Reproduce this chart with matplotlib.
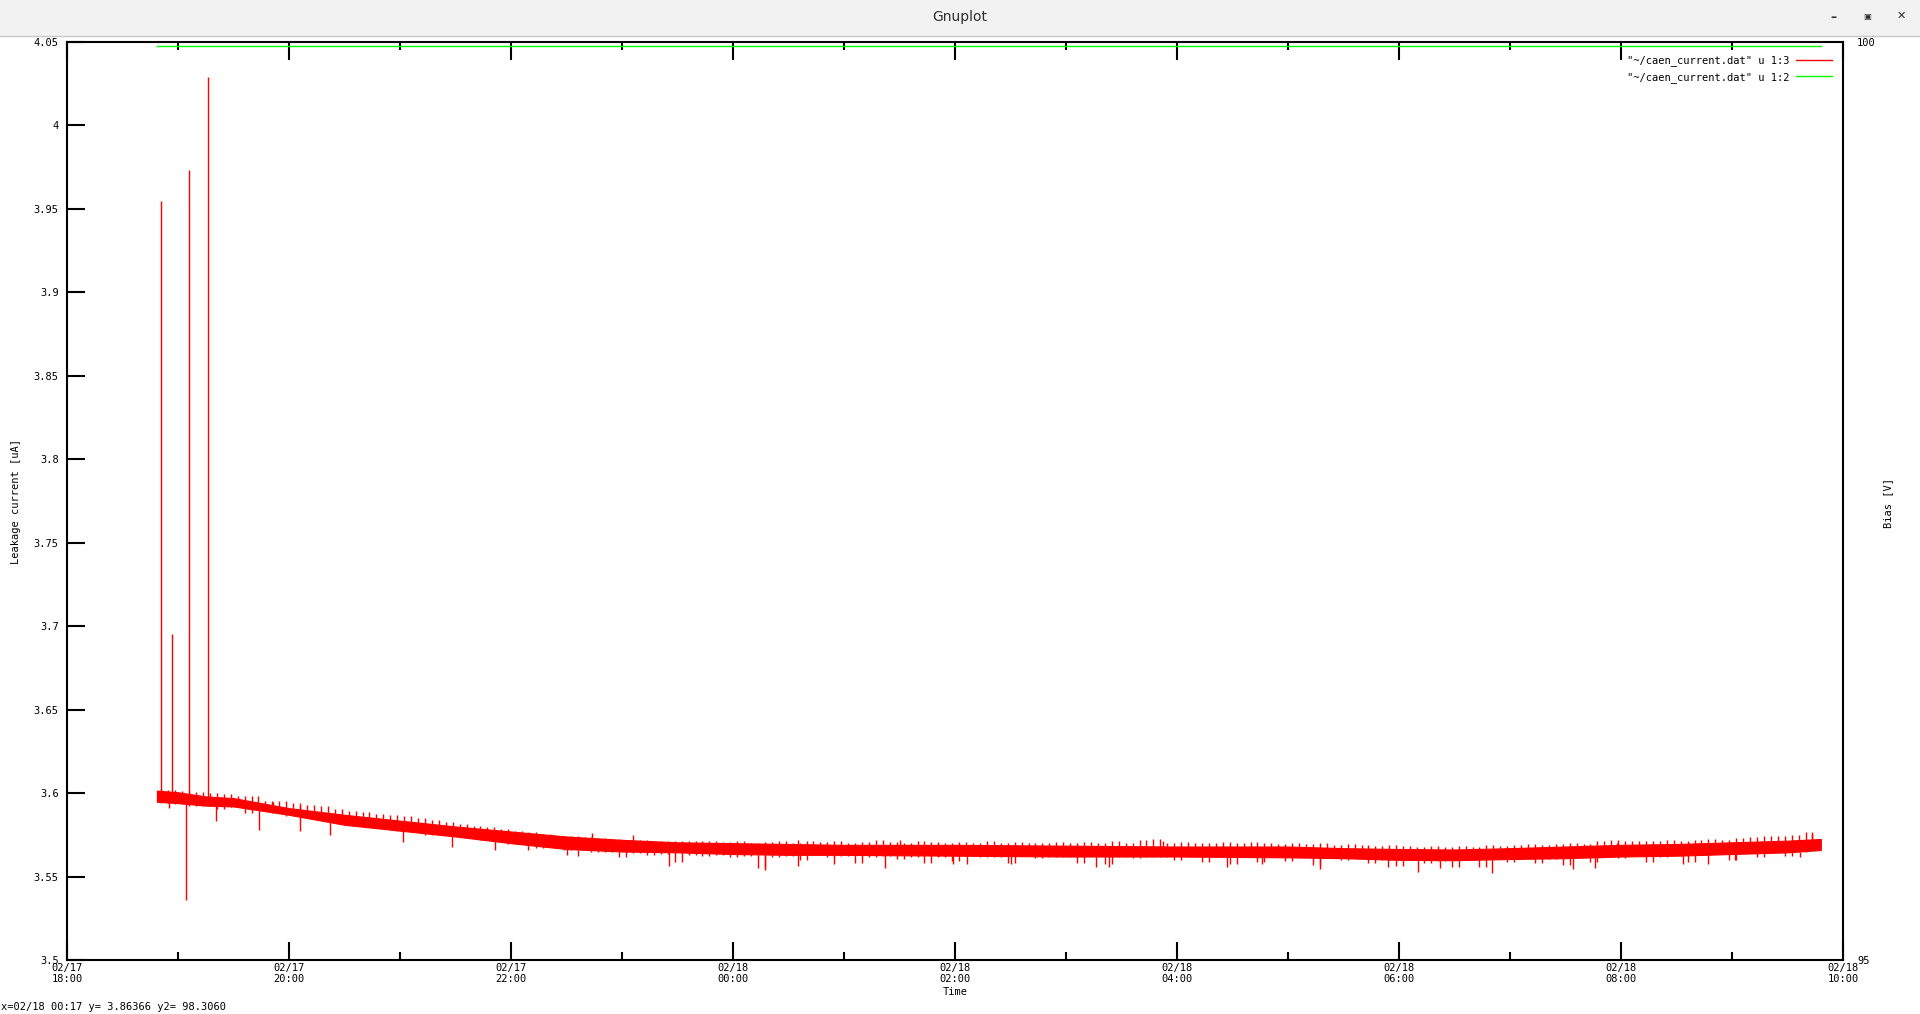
import datetime as dt
import matplotlib
matplotlib.use("Agg")
import matplotlib.pyplot as plt
import matplotlib.dates as mdates
from matplotlib.lines import Line2D
import numpy as np
import pandas as pd

# time is given in hours after 02/17 18:00
t0 = dt.datetime(2015, 2, 17, 18, 0)

# dense part of the leakage current trace (upper / lower edge), uA
band_hours = [0.81, 1.0, 1.25, 1.5, 2.0, 2.5, 3.0, 3.5, 4.0, 4.5, 5.0, 5.5, 6.0, 6.5,
              7.0, 8.0, 9.0, 10.0, 11.0, 11.5, 12.0, 12.5, 13.0, 13.5, 14.0, 14.5,
              15.0, 15.5, 15.8]
band_upper = [3.6015, 3.6005, 3.598, 3.597, 3.591, 3.587, 3.5835, 3.580, 3.577, 3.574,
              3.572, 3.5705, 3.570, 3.5695, 3.569, 3.569, 3.5685, 3.568, 3.568, 3.567,
              3.5665, 3.5662, 3.567, 3.568, 3.569, 3.5695, 3.5705, 3.5715, 3.5725]
band_lower = [3.5948, 3.594, 3.5925, 3.592, 3.587, 3.581, 3.5775, 3.574, 3.570, 3.5665,
              3.565, 3.5645, 3.5635, 3.563, 3.563, 3.5625, 3.562, 3.562, 3.5615, 3.561,
              3.560, 3.5598, 3.5605, 3.561, 3.562, 3.5625, 3.5635, 3.5645, 3.5659]

# coarse readings of the noisy trace, one every 3.75 min from 18:51
trace_current = [
    3.6025, 3.5940, 3.6020, 3.5935, 3.6015, 3.5920, 3.6005, 3.5925, 3.6000, 3.5905, 3.5995, 3.5915, 3.5985, 3.5880, 3.5980, 3.5905,
    3.5955, 3.5880, 3.5950, 3.5865, 3.5940, 3.5850, 3.5930, 3.5855, 3.5920, 3.5830, 3.5905, 3.5835, 3.5895, 3.5810, 3.5885, 3.5815,
    3.5875, 3.5795, 3.5870, 3.5770, 3.5860, 3.5785, 3.5850, 3.5750, 3.5840, 3.5765, 3.5825, 3.5740, 3.5815, 3.5745, 3.5805, 3.5720,
    3.5795, 3.5715, 3.5785, 3.5695, 3.5775, 3.5705, 3.5765, 3.5670, 3.5755, 3.5685, 3.5745, 3.5660, 3.5740, 3.5670, 3.5735, 3.5650,
    3.5730, 3.5645, 3.5725, 3.5620, 3.5720, 3.5640, 3.5720, 3.5630, 3.5715, 3.5635, 3.5715, 3.5585, 3.5710, 3.5630, 3.5710, 3.5625,
    3.5710, 3.5630, 3.5705, 3.5615, 3.5710, 3.5625, 3.5700, 3.5550, 3.5705, 3.5620, 3.5710, 3.5625, 3.5700, 3.5600, 3.5710, 3.5630,
    3.5705, 3.5620, 3.5710, 3.5625, 3.5700, 3.5580, 3.5705, 3.5620, 3.5720, 3.5625, 3.5705, 3.5605, 3.5700, 3.5620, 3.5710, 3.5580,
    3.5705, 3.5620, 3.5700, 3.5595, 3.5705, 3.5625, 3.5700, 3.5615, 3.5710, 3.5620, 3.5700, 3.5580, 3.5705, 3.5625, 3.5700, 3.5610,
    3.5700, 3.5620, 3.5705, 3.5615, 3.5700, 3.5580, 3.5705, 3.5625, 3.5700, 3.5575, 3.5710, 3.5620, 3.5700, 3.5610, 3.5720, 3.5620,
    3.5725, 3.5620, 3.5700, 3.5600, 3.5705, 3.5620, 3.5700, 3.5585, 3.5700, 3.5620, 3.5705, 3.5575, 3.5700, 3.5615, 3.5705, 3.5590,
    3.5700, 3.5615, 3.5695, 3.5595, 3.5700, 3.5620, 3.5695, 3.5570, 3.5700, 3.5610, 3.5690, 3.5600, 3.5695, 3.5610, 3.5690, 3.5580,
    3.5685, 3.5600, 3.5690, 3.5565, 3.5685, 3.5605, 3.5680, 3.5580, 3.5685, 3.5595, 3.5680, 3.5560, 3.5685, 3.5600, 3.5680, 3.5555,
    3.5690, 3.5605, 3.5685, 3.5590, 3.5690, 3.5610, 3.5695, 3.5580, 3.5690, 3.5605, 3.5695, 3.5570, 3.5700, 3.5615, 3.5695, 3.5585,
    3.5710, 3.5620, 3.5720, 3.5610, 3.5710, 3.5625, 3.5715, 3.5590, 3.5710, 3.5620, 3.5720, 3.5625, 3.5715, 3.5590, 3.5720, 3.5630,
    3.5725, 3.5635, 3.5720, 3.5600, 3.5730, 3.5640, 3.5735, 3.5620, 3.5740, 3.5645, 3.5745, 3.5625, 3.5750, 3.5650, 3.5765, 3.5670,
]

# isolated glitches sticking out of the band
glitch_hours = [0.92, 1.34, 1.73, 2.10, 2.37, 3.03, 3.47, 3.86, 4.15, 4.5, 4.6, 5.42,
                6.29, 6.59, 6.91, 7.37, 7.98, 8.11, 8.5, 9.27, 9.39, 10.45, 10.77, 11.29,
                11.9, 12.17, 12.37, 12.84, 13.57, 13.77, 14.56, 14.78, 15.03, 15.61,
                1.86, 2.1, 4.73, 5.1, 6.59, 7.5, 9.87, 13.96, 15.72]
glitch_low = [3.591, 3.5833, 3.5779, 3.5773, 3.5749, 3.5707, 3.5677, 3.5659, 3.5659, 3.5629,
              3.5623, 3.5565, 3.5539, 3.5563, 3.5575, 3.5553, 3.5575, 3.5575, 3.5575, 3.5557,
              3.5557, 3.5557, 3.5575, 3.5545, 3.5557, 3.5529, 3.5551, 3.5523, 3.5545, 3.5553,
              3.5573, 3.5575, 3.5599, 3.5619,
              3.592, 3.588, 3.572, 3.571, 3.569, 3.569, 3.568, 3.568, 3.572]
glitch_high = [3.595, 3.593, 3.590, 3.588, 3.584, 3.578, 3.575, 3.572, 3.569, 3.567,
               3.566, 3.565, 3.564, 3.564, 3.564, 3.563, 3.563, 3.563, 3.563, 3.563,
               3.563, 3.563, 3.562, 3.562, 3.561, 3.561, 3.561, 3.561, 3.562, 3.562,
               3.563, 3.563, 3.564, 3.565,
               3.5947, 3.5923, 3.5761, 3.5749, 3.5719, 3.5719, 3.5713, 3.5703, 3.5755]

# tall spikes at the start of the run
spike_hours = [0.844, 0.949, 1.075, 1.095, 1.27]
spike_low = [3.598, 3.597, 3.5361, 3.596, 3.595]
spike_high = [3.9547, 3.6951, 3.598, 3.9733, 4.029]

# bias voltage, V
bias_hours = [0.81, 15.8]
bias_volts = [99.98, 99.98]

y_ticks = [3.5, 3.55, 3.6, 3.65, 3.7, 3.75, 3.8, 3.85, 3.9, 3.95, 4.0, 4.05]
y_ticklabels = ["3.5", "3.55", "3.6", "3.65", "3.7", "3.75", "3.8", "3.85", "3.9",
                "3.95", "4", "4.05"]
legend_labels = ['"~/caen_current.dat" u 1:3', '"~/caen_current.dat" u 1:2']
status_text = "x=02/18 00:17 y= 3.86366 y2= 98.3060"


def to_time(hours):
    return [t0 + dt.timedelta(hours=h) for h in hours]


trace_time = pd.date_range(t0 + dt.timedelta(minutes=51), periods=len(trace_current),
                           freq="225s")
trace = np.array(trace_current)
# each step of the trace drawn as the vertical jump it makes
step_low = np.minimum(trace[:-1], trace[1:])
step_high = np.maximum(trace[:-1], trace[1:])

mono = "DejaVu Sans Mono"
fs = 7.5
plt.rcParams["font.family"] = mono
plt.rcParams["font.size"] = fs

W, H = 1920, 1014
fig = plt.figure(figsize=(W / 100, H / 100), dpi=100)

# window title bar
fig.patches.append(plt.Rectangle((0, 1 - 35 / H), 1, 35 / H, transform=fig.transFigure,
                                 color="#f2f2f2", zorder=0))
fig.lines.append(plt.Line2D([0, 1], [1 - 35.5 / H] * 2, transform=fig.transFigure,
                            color="#c8c8c8", lw=1))
fig.text(0.5, 1 - 17 / H, "Gnuplot", ha="center", va="center", fontsize=10,
         family="DejaVu Sans", color="#2e2e2e")
fig.text(1833 / W, 1 - 17 / H, "\u2013", ha="center", va="center", fontsize=9,
         family="DejaVu Sans", color="#2e2e2e", fontweight="bold")
fig.text(1867 / W, 1 - 16 / H, "\u25a3", ha="center", va="center", fontsize=6,
         family="DejaVu Sans", color="#2e2e2e")
fig.text(1901 / W, 1 - 16 / H, "\u2715", ha="center", va="center", fontsize=8,
         family="DejaVu Sans", color="#2e2e2e", fontweight="bold")

left, right, top, bottom = 67, 1843, 42, 960
ax = fig.add_axes([left / W, 1 - bottom / H, (right - left) / W, (bottom - top) / H])

red = "#ff0000"
ax.fill_between(to_time(band_hours), band_lower, band_upper, color=red, lw=0.8,
                edgecolor=red)
ax.vlines(trace_time[:-1], step_low, step_high, color=red, lw=1.0)
ax.vlines(to_time(glitch_hours), glitch_low, glitch_high, color=red, lw=1.0)
ax.vlines(to_time(spike_hours), spike_low, spike_high, color=red, lw=1.0)
line_i = Line2D([], [], color=red, lw=1.0)

ax.set_ylim(3.5, 4.05)
ax.set_xlim(t0, t0 + dt.timedelta(hours=16))
ax.set_yticks(y_ticks)
ax.set_yticklabels(y_ticklabels)

ax.xaxis.set_major_locator(mdates.HourLocator(byhour=range(0, 24, 2)))
ax.xaxis.set_minor_locator(mdates.HourLocator())
ax.xaxis.set_major_formatter(mdates.DateFormatter("%m/%d\n%H:%M"))
ax.tick_params(which="major", direction="in", length=13, width=1.5,
               top=True, right=True, pad=3, labelsize=fs)
ax.tick_params(which="minor", direction="in", length=6, width=1.5, top=True)
ax.tick_params(axis="y", pad=6)
ax.tick_params(axis="x", pad=2)
for s in ax.spines.values():
    s.set_linewidth(1.5)
for lab in ax.get_xticklabels():
    lab.set_linespacing(1.2)

ax2 = ax.twinx()
ax2.set_ylim(95, 100)
ax2.set_yticks([95, 100])
ax2.set_yticklabels(["95", "100"])
ax2.tick_params(axis="y", length=0, pad=10, labelsize=fs)
for s in ax2.spines.values():
    s.set_visible(False)
line_v, = ax2.plot(to_time(bias_hours), bias_volts, color="#00ff00", lw=1.0,
                   label=legend_labels[1])

leg = ax2.legend([line_i, line_v], legend_labels, loc="upper right", frameon=False,
                 markerfirst=False, handlelength=3.4, handletextpad=0.7,
                 labelspacing=0.55, borderaxespad=0, fontsize=fs,
                 bbox_to_anchor=((1836 - left) / (right - left), 1 - 9 / (bottom - top)))

fig.text(16 / W, 1 - 502 / H, "Leakage current [uA]", rotation=90, ha="center",
         va="center", fontsize=fs)
fig.text(1888 / W, 1 - 503 / H, "Bias [V]", rotation=90, ha="center", va="center",
         fontsize=fs)
fig.text(955 / W, 1 - 992 / H, "Time", ha="center", va="center", fontsize=fs)
fig.text(1 / W, 1 - 1007 / H, status_text, ha="left", va="center", fontsize=fs)

fig.savefig("out.png", dpi=100)
